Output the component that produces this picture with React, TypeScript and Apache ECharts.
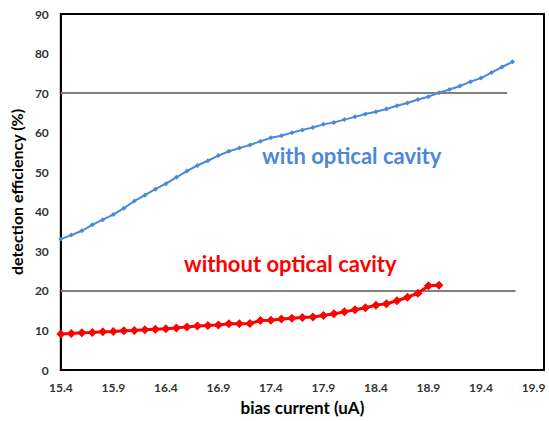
import React, { useEffect, useRef } from "react";
import * as echarts from "echarts";

// bias current (uA), 0.1 uA steps
const currentWith = [
  15.4, 15.5, 15.6, 15.7, 15.8, 15.9, 16.0, 16.1, 16.2, 16.3,
  16.4, 16.5, 16.6, 16.7, 16.8, 16.9, 17.0, 17.1, 17.2, 17.3,
  17.4, 17.5, 17.6, 17.7, 17.8, 17.9, 18.0, 18.1, 18.2, 18.3,
  18.4, 18.5, 18.6, 18.7, 18.8, 18.9, 19.0, 19.1, 19.2, 19.3,
  19.4, 19.5, 19.6, 19.7,
];
const effWith = [
  33.1, 34.1, 35.2, 36.7, 38.0, 39.3, 40.9, 42.7, 44.2, 45.7,
  47.1, 48.7, 50.3, 51.7, 52.9, 54.2, 55.3, 56.1, 56.9, 57.8,
  58.7, 59.2, 60.0, 60.7, 61.3, 62.1, 62.6, 63.3, 64.0, 64.7,
  65.3, 66.0, 66.8, 67.5, 68.4, 69.1, 70.1, 70.9, 71.8, 72.9,
  73.8, 75.2, 76.6, 77.9,
];
const currentWithout = [
  15.4, 15.5, 15.6, 15.7, 15.8, 15.9, 16.0, 16.1, 16.2, 16.3,
  16.4, 16.5, 16.6, 16.7, 16.8, 16.9, 17.0, 17.1, 17.2, 17.3,
  17.4, 17.5, 17.6, 17.7, 17.8, 17.9, 18.0, 18.1, 18.2, 18.3,
  18.4, 18.5, 18.6, 18.7, 18.8, 18.9, 19.0,
];
const effWithout = [
  9.1, 9.25, 9.4, 9.5, 9.7, 9.75, 9.9, 10.0, 10.2, 10.3,
  10.4, 10.6, 10.9, 11.1, 11.25, 11.4, 11.7, 11.7, 11.75, 12.5,
  12.6, 12.9, 13.1, 13.3, 13.4, 13.8, 14.2, 14.7, 15.25, 15.75,
  16.4, 16.75, 17.5, 18.4, 19.4, 21.3, 21.4,
];
// reference lines: [x, level] endpoints
const refLine70 = [[15.4, 70], [19.65, 70]];
const refLine20 = [[15.4, 20], [19.73, 20]];

const xMin = 15.4;
const xMax = 20.0;
const xStep = 0.5;
const yMin = 0;
const yMax = 90;
const yStep = 10;

const FONT = "Lato, 'Open Sans', sans-serif";

export default function App() {
  const ref = useRef<HTMLDivElement>(null);
  useEffect(() => {
    if (!ref.current) return;
    const chart = echarts.init(ref.current, undefined, { renderer: "svg" });
    const pairs = (xs: number[], ys: number[]) => xs.map((x, i) => [x, ys[i]]);
    chart.setOption({
      animation: false,
      textStyle: { fontFamily: FONT },
      grid: {
        left: 58,
        top: 14,
        right: 5,
        bottom: 47,
        show: true,
        borderColor: "#000",
        borderWidth: 2,
        backgroundColor: "transparent",
      },
      xAxis: {
        type: "value",
        min: xMin,
        max: xMax,
        interval: xStep,
        name: "bias current (uA)",
        nameLocation: "middle",
        nameGap: 29,
        nameTextStyle: { fontSize: 17, fontWeight: "bold", color: "#000", fontFamily: FONT },
        axisLine: { show: true, onZero: false, lineStyle: { color: "#000", width: 2 } },
        axisTick: { show: false },
        splitLine: { show: false },
        axisLabel: {
          showMaxLabel: false,
          margin: 11,
          fontSize: 12,
          fontWeight: "bold",
          color: "#333",
          fontFamily: FONT,
          formatter: (v: number) => (v > 19.95 ? "" : v.toFixed(1)),
        },
      },
      yAxis: {
        type: "value",
        min: yMin,
        max: yMax,
        interval: yStep,
        name: "detection efficiency (%)",
        nameLocation: "middle",
        nameGap: 31,
        nameTextStyle: { fontSize: 16, fontWeight: "bold", color: "#000", fontFamily: FONT },
        axisLine: { show: true, lineStyle: { color: "#000", width: 2 } },
        axisTick: { show: false },
        splitLine: { show: false },
        axisLabel: { margin: 12, fontSize: 12, fontWeight: "bold", color: "#333", fontFamily: FONT },
      },
      series: [
        {
          type: "line",
          data: refLine70,
          symbol: "none",
          lineStyle: { color: "#808080", width: 2 },
          silent: true,
        },
        {
          type: "line",
          data: refLine20,
          symbol: "none",
          lineStyle: { color: "#808080", width: 2 },
          silent: true,
        },
        {
          type: "line",
          data: pairs(currentWith, effWith),
          symbol: "diamond",
          symbolSize: 5,
          itemStyle: { color: "#4a88d8" },
          lineStyle: { color: "#4a88d8", width: 2 },
        },
        {
          type: "line",
          data: pairs(currentWithout, effWithout),
          symbol: "diamond",
          symbolSize: 9,
          itemStyle: { color: "#ff0000" },
          lineStyle: { color: "#ff0000", width: 3 },
        },
      ],
      graphic: [
        {
          type: "text",
          left: 262,
          top: 144,
          style: {
            text: "with optical cavity",
            fill: "#4a88d8",
            font: `bold 22px ${FONT}`,
          },
        },
        {
          type: "text",
          left: 184,
          top: 252,
          style: {
            text: "without optical cavity",
            fill: "#ff0000",
            font: `bold 22px ${FONT}`,
          },
        },
      ],
    });
    return () => chart.dispose();
  }, []);
  return <div ref={ref} style={{ width: 549, height: 421, position: "absolute", left: 0, top: 0 }} />;
}
